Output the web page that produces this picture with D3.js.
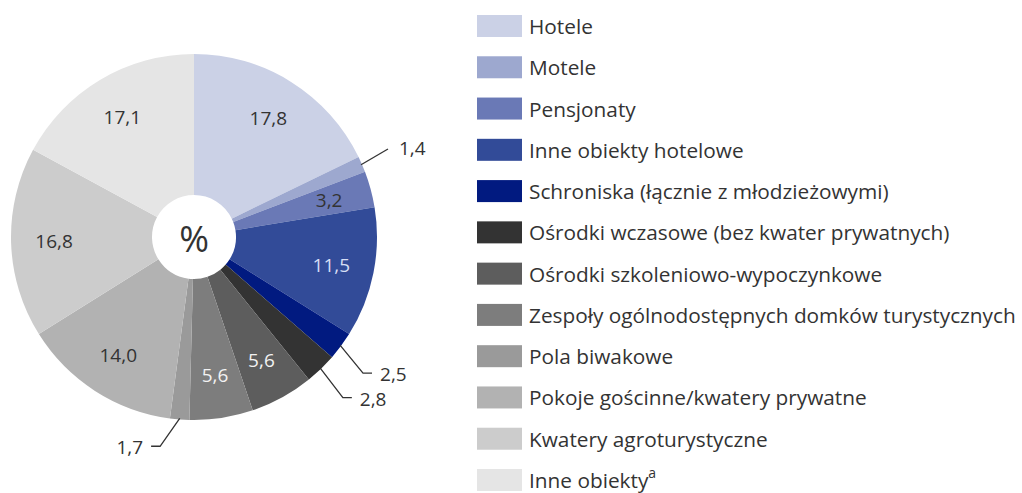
<!DOCTYPE html>
<html>
<head>
<meta charset="utf-8">
<script src="https://cdn.jsdelivr.net/npm/d3@7"></script>
<style>
  html, body { margin: 0; padding: 0; background: #fff; }
  svg { display: block; font-family: "Open Sans", "Noto Sans", sans-serif; }
</style>
</head>
<body>
<svg id="chart" width="1022" height="493"></svg>
<script>
const categories = [
  "Hotele", "Motele", "Pensjonaty", "Inne obiekty hotelowe",
  "Schroniska (łącznie z młodzieżowymi)", "Ośrodki wczasowe (bez kwater prywatnych)",
  "Ośrodki szkoleniowo-wypoczynkowe", "Zespoły ogólnodostępnych domków turystycznych",
  "Pola biwakowe", "Pokoje gościnne/kwatery prywatne", "Kwatery agroturystyczne", "Inne obiekty"
];
const values = [17.8, 1.4, 3.2, 11.5, 2.5, 2.8, 5.6, 5.6, 1.7, 14.0, 16.8, 17.1];
const valueLabels = ["17,8", "1,4", "3,2", "11,5", "2,5", "2,8", "5,6", "5,6", "1,7", "14,0", "16,8", "17,1"];
const superscripts = ["", "", "", "", "", "", "", "", "", "", "", "a"];
const colors = ["#cbd1e6", "#9da8cf", "#6a79b6", "#324b98", "#011a80", "#333333",
                "#5d5d5d", "#7d7d7d", "#9a9a9a", "#b2b2b2", "#cccccc", "#e5e5e5"];
const labelColors = ["#333", "#333", "#333", "#d6def5", "#333", "#333",
                     "#f2f2f2", "#f2f2f2", "#333", "#333", "#333", "#333"];
// slices whose labels sit outside with a leader line
const outside = [false, true, false, false, true, true, false, false, true, false, false, false];

// layout tweaks for leader lines (degrees added to the slice mid-angle for the elbow)
const leaderLayout = {1: {da: -1, r: 213, elbow: 0}, 4: {da: 2.3, r: 217, elbow: 9},
                      5: {da: 1.1, r: 219, elbow: 9}, 8: {da: 4.7, r: 212, elbow: 9}};

const svg = d3.select("#chart");
const cx = 194, cy = 237, R = 183, r0 = 42;

const pie = d3.pie().value(d => d).sort(null);
const arcs = pie(values);
const arc = d3.arc().innerRadius(r0).outerRadius(R);
const labelArc = d3.arc().innerRadius(140).outerRadius(140);

const g = svg.append("g").attr("transform", `translate(${cx},${cy})`);

g.selectAll("path.slice").data(arcs).enter().append("path")
  .attr("class", "slice")
  .attr("d", arc)
  .attr("fill", (d, i) => colors[i]);

// inside labels
g.selectAll("text.val").data(arcs.filter((d, i) => !outside[i])).enter().append("text")
  .attr("class", "val")
  .attr("transform", d => `translate(${labelArc.centroid(d)})`)
  .attr("text-anchor", "middle")
  .attr("dominant-baseline", "central")
  .attr("font-size", 19)
  .attr("fill", d => labelColors[d.index])
  .text(d => valueLabels[d.index]);

// outside labels with leaders
const pt = (a, rad) => [Math.sin(a) * rad, -Math.cos(a) * rad];
arcs.forEach((d, i) => {
  if (!outside[i]) return;
  const L = leaderLayout[i];
  const a = (d.startAngle + d.endAngle) / 2;
  const p0 = pt(a, R - 1);
  const p1 = pt(a + L.da * Math.PI / 180, L.r);
  const right = p1[0] > 0;
  const p2 = [p1[0] + (right ? L.elbow : -L.elbow), p1[1]];
  g.append("polyline")
    .attr("points", [p0, p1, p2].map(p => p.join(",")).join(" "))
    .attr("fill", "none").attr("stroke", "#333").attr("stroke-width", 1.3);
  const tx = p2[0] + (right ? (L.elbow ? 8 : 11) : -8);
  const ty = L.elbow ? p2[1] + 1 : p2[1] - 1;
  g.append("text")
    .attr("x", tx).attr("y", ty)
    .attr("text-anchor", right ? "start" : "end")
    .attr("dominant-baseline", "central")
    .attr("font-size", 19)
    .attr("fill", "#333")
    .text(valueLabels[i]);
});

// centre %
g.append("text")
  .attr("text-anchor", "middle")
  .attr("dominant-baseline", "central")
  .attr("y", 1)
  .attr("font-size", 36)
  .attr("fill", "#333")
  .text("%");

// legend
const ly = d3.scalePoint().domain(d3.range(categories.length)).range([26, 480]);
const lg = svg.append("g");
const rows = lg.selectAll("g.row").data(categories).enter().append("g")
  .attr("class", "row")
  .attr("transform", (d, i) => `translate(477,${ly(i)})`);
rows.append("rect")
  .attr("x", 0).attr("y", -11).attr("width", 45).attr("height", 22)
  .attr("fill", (d, i) => colors[i]);
const txt = rows.append("text")
  .attr("x", 52).attr("y", 0)
  .attr("dominant-baseline", "central")
  .attr("font-size", 20.8)
  .attr("fill", "#333");
txt.append("tspan").text(d => d);
txt.filter((d, i) => superscripts[i]).append("tspan")
  .attr("dy", -8).attr("font-size", 14)
  .text((d, i) => superscripts[categories.indexOf(d)]);
</script>
</body>
</html>
